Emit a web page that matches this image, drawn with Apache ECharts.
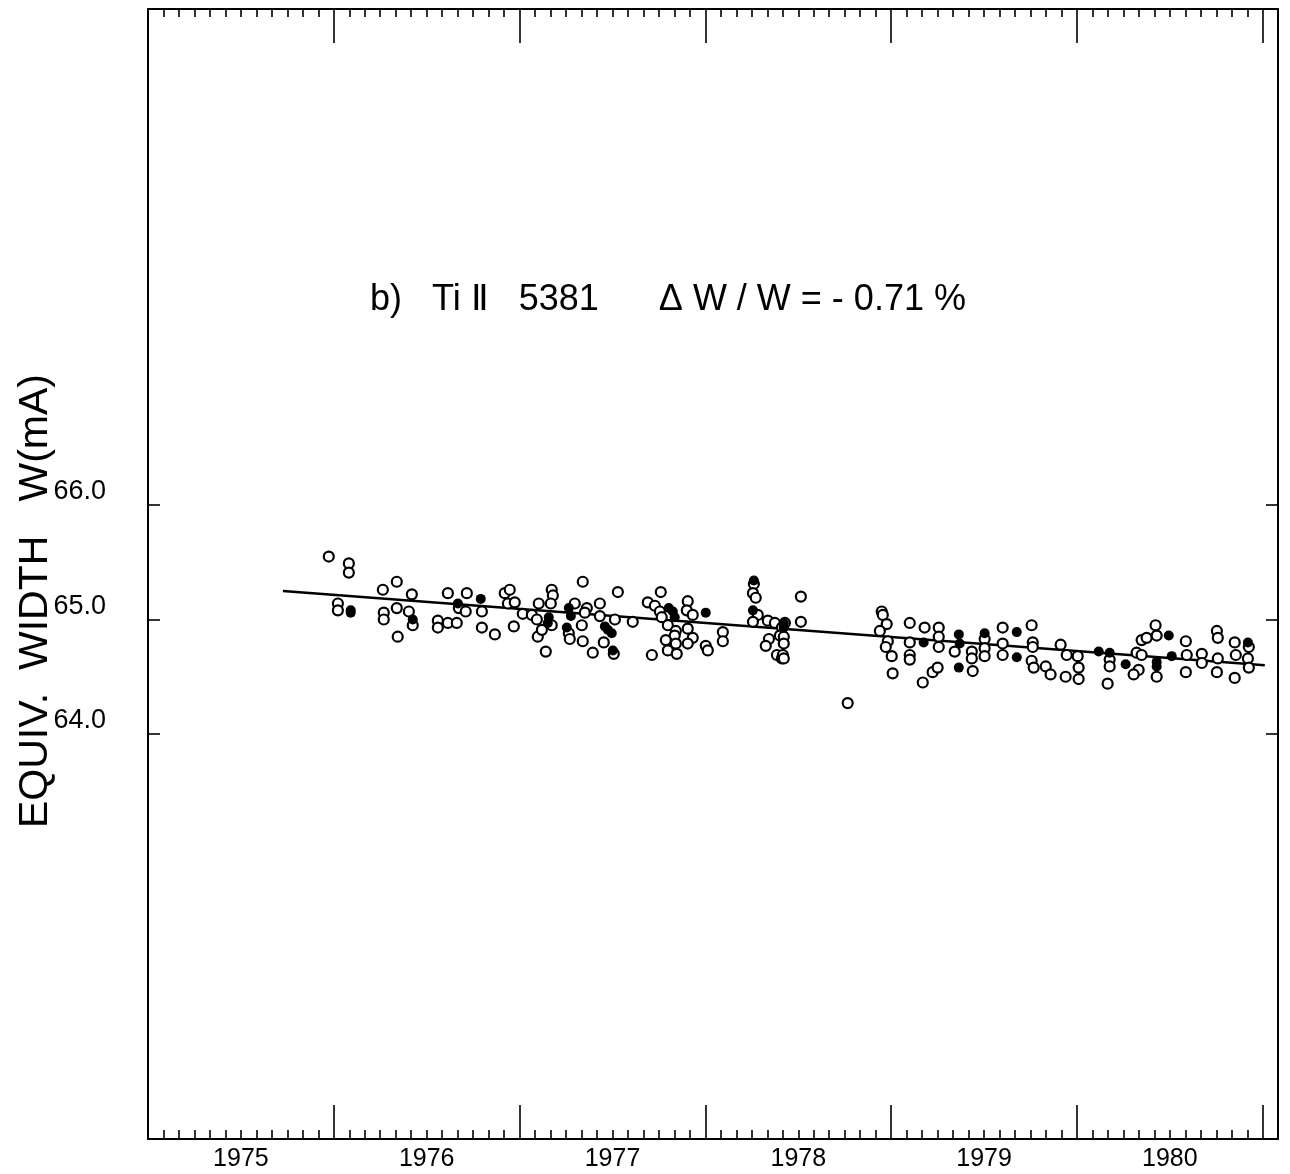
<!DOCTYPE html>
<html><head><meta charset="utf-8">
<script src="https://cdn.jsdelivr.net/npm/echarts@6/dist/echarts.min.js"></script>
<style>html,body{margin:0;padding:0;background:#fff}#c{width:1290px;height:1174px}</style>
</head><body><div id="c"></div>
<script>
const yearLabels = ['1975','1976','1977','1978','1979','1980'];
const yTickValues = [64.0, 65.0, 66.0];
const titleText = 'b)   Ti \u2161   5381      \u0394 W / W = - 0.71 %';
const yAxisTitle = 'EQUIV.  WIDTH   W(mA)';

// open circles: [year, W (mA)]
const openPoints = [
[1975.973,65.55],[1976.081,65.49],[1976.081,65.41],[1976.022,65.14],[1976.022,65.08],
[1976.264,65.26],[1976.339,65.33],[1976.269,65.06],[1976.269,65.00],[1976.339,65.10],
[1976.344,64.85],[1976.420,65.22],[1976.404,65.07],[1976.425,64.95],[1976.560,64.99],
[1976.560,64.93],[1976.614,64.97],[1976.662,64.97],[1976.614,65.23],[1976.673,65.10],
[1976.716,65.23],[1976.710,65.07],[1976.797,65.07],[1976.797,64.93],[1976.867,64.87],
[1976.920,65.23],[1976.947,65.26],[1976.937,65.14],[1976.974,65.15],[1976.969,64.94],
[1977.017,65.05],[1977.066,65.04],[1977.093,65.00],[1977.103,65.14],[1977.098,64.85],
[1977.120,64.91],[1977.141,64.72],[1977.173,65.26],[1977.179,65.21],[1977.168,65.14],
[1977.173,64.95],[1977.265,64.88],[1977.270,64.83],[1977.297,65.14],[1977.340,65.33],
[1977.335,64.95],[1977.340,64.81],[1977.362,65.10],[1977.351,65.06],[1977.394,64.71],
[1977.432,65.14],[1977.432,65.03],[1977.453,64.80],[1977.529,65.24],[1977.513,65.00],
[1977.507,64.70],[1977.609,64.98],[1977.712,64.69],[1977.760,65.24],[1977.690,65.15],
[1977.728,65.12],[1977.755,65.07],[1977.765,65.02],[1977.798,64.95],[1977.841,64.90],
[1977.835,64.86],[1977.787,64.82],[1977.841,64.79],[1977.798,64.73],[1977.846,64.70],
[1977.905,65.16],[1977.900,65.08],[1977.932,65.04],[1977.905,64.92],[1977.932,64.84],
[1977.905,64.79],[1978.002,64.77],[1978.013,64.73],[1978.094,64.89],[1978.094,64.81],
[1978.261,65.31],[1978.256,65.23],[1978.271,65.19],[1978.282,65.04],[1978.256,64.98],
[1978.336,64.99],[1978.374,64.97],[1978.412,64.93],[1978.401,64.86],[1978.342,64.83],
[1978.325,64.77],[1978.385,64.69],[1978.412,64.66],[1978.428,64.97],[1978.514,65.20],
[1978.514,64.98],[1978.422,64.85],[1978.422,64.79],[1978.417,64.69],[1978.422,64.66],
[1978.766,64.27],[1978.949,65.07],[1978.955,65.04],[1978.976,64.96],[1978.939,64.90],
[1978.982,64.81],[1978.971,64.76],[1979.003,64.68],[1979.008,64.53],[1979.100,64.97],
[1979.100,64.80],[1979.100,64.69],[1979.100,64.65],[1979.180,64.93],[1979.170,64.45],
[1979.223,64.54],[1979.250,64.58],[1979.256,64.93],[1979.256,64.85],[1979.256,64.76],
[1979.342,64.72],[1979.434,64.72],[1979.434,64.66],[1979.439,64.55],[1979.503,64.83],
[1979.503,64.75],[1979.503,64.68],[1979.600,64.93],[1979.600,64.79],[1979.600,64.69],
[1979.756,64.95],[1979.762,64.80],[1979.762,64.76],[1979.756,64.64],[1979.767,64.58],
[1979.832,64.59],[1979.858,64.52],[1979.912,64.78],[1979.945,64.69],[1980.004,64.68],
[1979.939,64.50],[1980.009,64.58],[1980.009,64.48],[1980.176,64.65],[1980.176,64.59],
[1980.165,64.44],[1980.321,64.71],[1980.348,64.69],[1980.332,64.56],[1980.305,64.52],
[1980.348,64.82],[1980.375,64.84],[1980.423,64.95],[1980.429,64.86],[1980.429,64.50],
[1980.586,64.81],[1980.591,64.69],[1980.586,64.54],[1980.672,64.70],[1980.672,64.62],
[1980.753,64.90],[1980.758,64.84],[1980.758,64.66],[1980.753,64.54],[1980.849,64.80],
[1980.855,64.69],[1980.849,64.49],[1980.920,64.66],[1980.925,64.58],[1980.925,64.76]
];

// filled dots: [year, W (mA)]
const filledPoints = [
[1976.091,65.08],[1976.091,65.06],[1976.425,65.00],[1976.668,65.14],[1976.791,65.18],
[1977.157,65.02],[1977.152,64.97],[1977.265,65.10],[1977.276,65.03],[1977.254,64.93],
[1977.459,64.94],[1977.475,64.91],[1977.496,64.88],[1977.502,64.73],[1977.803,65.10],
[1977.825,65.07],[1977.835,65.02],[1978.002,65.06],[1978.261,65.34],[1978.256,65.08],
[1978.422,64.97],[1978.422,64.93],[1979.175,64.80],[1979.364,64.87],[1979.369,64.79],
[1979.364,64.58],[1979.503,64.88],[1979.676,64.89],[1979.676,64.67],[1980.117,64.72],
[1980.176,64.71],[1980.262,64.61],[1980.494,64.86],[1980.429,64.63],[1980.429,64.59],
[1980.510,64.68],[1980.920,64.80]
];

// linear fit line: [year, W (mA)]
const fitLine = [[1975.726,65.25],[1981.011,64.60]];

const xMin = 1975, xMax = 1981.082;
const yMin = 60.463, yMax = 70.332;
const majorTicks = [], minorTicks = [];
for (let y = 1976; y <= 1981; y++) majorTicks.push(y);
for (let y = 1975; y <= 1981; y++) for (let m = 1; m < 12; m++) { if (y + m/12 < xMax) minorTicks.push(y + m/12); }
const labelPos = yearLabels.map(s => Number(s) + 0.5);

const FONT = '"Liberation Sans", Arial, sans-serif';
const black = '#000';
const gridRect = {left: 148, right: 12, top: 9, bottom: 35};

function xAx(grid, pos, ticks, len, withLine, withLabels) {
  return {
    type: 'value', gridIndex: grid, position: pos, min: xMin, max: xMax,
    axisLine: {show: withLine, onZero: false, lineStyle: {color: black, width: 2}},
    splitLine: {show: false},
    axisTick: {show: true, inside: true, length: len, customValues: ticks, lineStyle: {color: black, width: 1.6}},
    axisLabel: withLabels ? {show: true, customValues: labelPos, formatter: v => String(Math.floor(v)),
      color: black, fontSize: 25, fontFamily: FONT, margin: 8} : {show: false}
  };
}
function yAx(grid, pos, withLabels, show) {
  return {
    type: 'value', gridIndex: grid, position: pos, min: yMin, max: yMax, show: show,
    axisLine: {show: true, onZero: false, lineStyle: {color: black, width: 2}},
    splitLine: {show: false},
    axisTick: {show: true, inside: true, length: 12, customValues: yTickValues, lineStyle: {color: black, width: 1.6}},
    axisLabel: withLabels ? {show: true, customValues: yTickValues, formatter: v => v.toFixed(1),
      color: black, fontSize: 27, fontFamily: FONT, margin: 42, verticalAlign: 'bottom', lineHeight: 26} : {show: false}
  };
}

const chart = echarts.init(document.getElementById('c'), null, {renderer: 'canvas'});
chart.setOption({
  animation: false,
  backgroundColor: '#fff',
  grid: [Object.assign({}, gridRect), Object.assign({}, gridRect)],
  xAxis: [
    xAx(0, 'bottom', minorTicks, 9, true, false),
    xAx(0, 'top', minorTicks, 8, true, false),
    xAx(1, 'bottom', majorTicks, 34, false, true),
    xAx(1, 'top', majorTicks, 34, false, false)
  ],
  yAxis: [
    yAx(0, 'left', true, true),
    yAx(0, 'right', false, true),
    yAx(1, 'left', false, false)
  ],
  series: [
    {type: 'line', xAxisIndex: 0, yAxisIndex: 0, data: fitLine, showSymbol: false, symbol: 'none',
      lineStyle: {color: black, width: 2.5}, z: 2},
    {type: 'scatter', xAxisIndex: 0, yAxisIndex: 0, data: openPoints, symbol: 'circle', symbolSize: 10,
      itemStyle: {color: '#fff', borderColor: black, borderWidth: 2.2, opacity: 1}, z: 3},
    {type: 'scatter', xAxisIndex: 0, yAxisIndex: 0, data: filledPoints, symbol: 'circle', symbolSize: 10,
      itemStyle: {color: black, opacity: 1}, z: 4}
  ],
  graphic: [
    {type: 'text', x: 668, y: 300, style: {text: titleText, font: '36px ' + FONT, fill: black,
      textAlign: 'center', textVerticalAlign: 'middle'}},
    {type: 'text', x: 36, y: 601, rotation: Math.PI / 2, style: {text: yAxisTitle, font: '41px ' + FONT,
      fill: black, textAlign: 'center', textVerticalAlign: 'middle'}}
  ]
});
</script></body></html>
